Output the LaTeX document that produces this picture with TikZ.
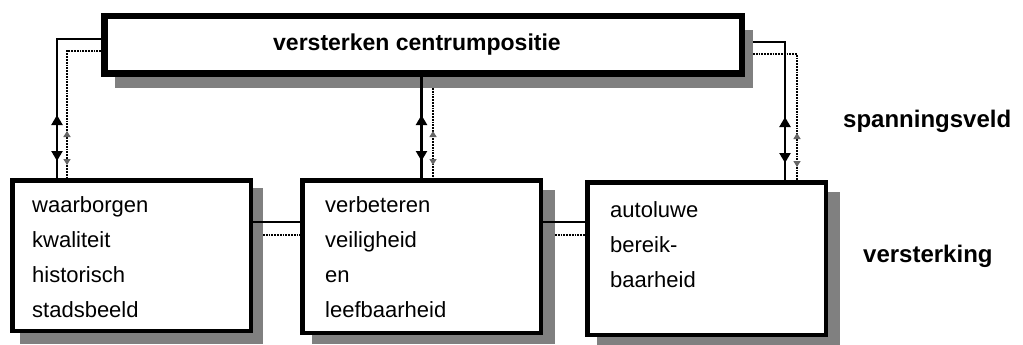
\documentclass[tikz,border=0pt]{standalone}
\usepackage{fontspec}
\setmainfont{Liberation Sans}
\usetikzlibrary{arrows.meta,decorations.markings,backgrounds}
\tikzset{
  topbox/.style={draw, line width=6.5pt, fill=white, minimum width=637.5pt, minimum height=57.5pt, inner sep=0pt, font=\fontsize{23}{28}\selectfont\bfseries},
  lowbox/.style={draw, line width=4.5pt, fill=white, minimum width=238.5pt, minimum height=#1, inner sep=0pt},
  boxtext/.style={anchor=north west, align=left, inner sep=0pt, font=\fontsize{22}{35}\selectfont},
  sidelabel/.style={anchor=base west, inner sep=0pt, font=\fontsize{24}{28}\selectfont\bfseries},
  shade/.style={fill=black!50},
  solidcon/.style={line width=2.2pt, postaction={decorate}, decoration={markings,
      mark=at position -63pt with {\arrowreversed{Triangle[width=11pt,length=10pt]}},
      mark=at position -17pt with {\arrow{Triangle[width=11pt,length=10pt]}}}},
  dotcon/.style={line width=1.8pt, densely dotted, postaction={decorate}, decoration={markings,
      mark=at position -47pt with {\arrowreversed{Triangle[width=7pt,length=6pt,color=black!60]}},
      mark=at position -13pt with {\arrow{Triangle[width=7pt,length=6pt,color=black!60]}}}},
  plaincon/.style={line width=2pt},
  plaindot/.style={line width=1.8pt, densely dotted}
}
\begin{document}
\begin{tikzpicture}[x=1pt,y=-1pt]
\useasboundingbox (0,0) rectangle (1023,345);

% boxes
\node[topbox] (top) at (423,45) {\hspace*{-12pt}versterken centrumpositie};
\node[lowbox=150.5pt] (b1) at (131.5,255.5) {};
\node[lowbox=152.5pt] (b2) at (421.5,256.5) {};
\node[lowbox=152.5pt] (b3) at (706.5,258.5) {};

% shadows
\begin{scope}[on background layer]
  \fill[white] (0,0) rectangle (1023,345);
  \fill[shade] ([xshift=14pt,yshift=-17pt]top.north west) rectangle ([xshift=8pt,yshift=-11pt]top.south east);
  \fill[shade] ([xshift=10pt,yshift=-10pt]b1.north west) rectangle ([xshift=10pt,yshift=-11pt]b1.south east);
  \fill[shade] ([xshift=12pt,yshift=-12pt]b2.north west) rectangle ([xshift=12pt,yshift=-9pt]b2.south east);
  \fill[shade] ([xshift=12pt,yshift=-12pt]b3.north west) rectangle ([xshift=12pt,yshift=-8pt]b3.south east);
\end{scope}

% texts
\node[boxtext] (t1) at (32,196) {waarborgen\\kwaliteit\\historisch\\stadsbeeld};
\node[boxtext] (t2) at (325,196) {verbeteren\\veiligheid\\en\\leefbaarheid};
\node[boxtext] (t3) at (610,201) {autoluwe\\bereik-\\baarheid};
\node[sidelabel] (sv) at (843,128) {spanningsveld};
\node[sidelabel] (vs) at (863,262) {versterking};

% vertical connectors
\draw[solidcon] ([yshift=6pt]top.west) -| ([xshift=47pt]b1.north west);
\draw[dotcon] ([yshift=-6pt]top.west) -| ([xshift=57pt]b1.north west);

\draw[solidcon] (b2.north |- top.south) -- (b2.north);
\coordinate (m2) at ([xshift=11.5pt]b2.north);
\coordinate (tsh) at ([yshift=-11pt]top.south);
\draw[dotcon] (m2 |- tsh) -- (m2);

\draw[solidcon] ([xshift=8pt,yshift=3pt]top.east) -| ([xshift=-43pt]b3.north east);
\draw[dotcon] ([xshift=8pt,yshift=-9pt]top.east) -| ([xshift=-31pt]b3.north east);

% horizontal connectors
\coordinate (h1) at ([yshift=33.5pt]b1.east);
\draw[plaincon] (h1) -- (h1 -| b2.west);
\coordinate (d1) at ([xshift=10pt,yshift=20.5pt]b1.east);
\draw[plaindot] (d1) -- (d1 -| b2.west);
\coordinate (h2) at ([yshift=34.5pt]b2.east);
\draw[plaincon] (h2) -- (h2 -| b3.west);
\coordinate (d2) at ([xshift=12pt,yshift=21.5pt]b2.east);
\draw[plaindot] (d2) -- (d2 -| b3.west);
\end{tikzpicture}
\end{document}
